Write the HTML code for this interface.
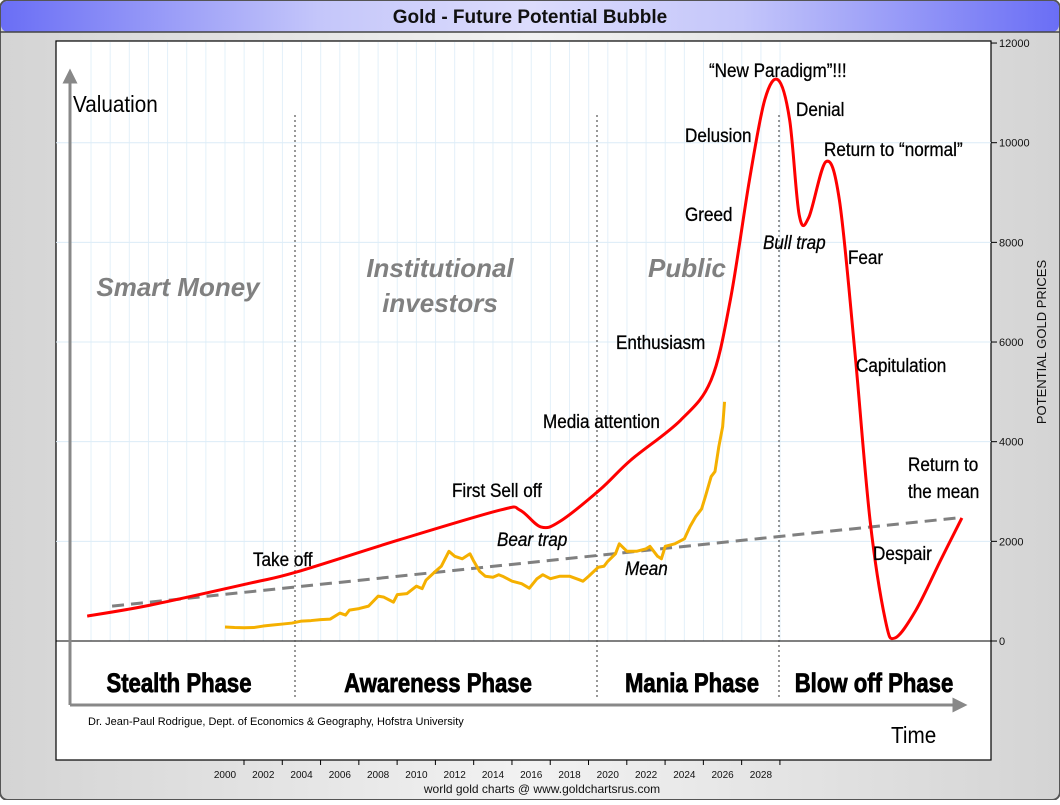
<!DOCTYPE html>
<html><head><meta charset="utf-8"><style>
body{margin:0;width:1060px;height:800px;overflow:hidden;background:#fff;font-family:"Liberation Sans",sans-serif}
</style></head><body>
<svg width="1060" height="800" viewBox="0 0 1060 800" xmlns="http://www.w3.org/2000/svg">
<defs>
<linearGradient id="tg" x1="0" x2="1"><stop offset="0" stop-color="#6a6ef5"/><stop offset="0.3" stop-color="#c4c6fa"/><stop offset="0.5" stop-color="#dcdcfc"/><stop offset="0.7" stop-color="#c4c6fa"/><stop offset="1" stop-color="#6a6ef5"/></linearGradient>
<linearGradient id="bg" x1="0" x2="1"><stop offset="0" stop-color="#d4d4d4"/><stop offset="0.5" stop-color="#f2f2f2"/><stop offset="1" stop-color="#d4d4d4"/></linearGradient>
<marker id="ah" markerWidth="5" markerHeight="5" refX="2.5" refY="2.5" orient="auto"><path d="M0,0 L5,2.5 L0,5 z" fill="#888"/></marker>
</defs>
<rect x="0" y="0" width="1060" height="800" rx="8" fill="url(#bg)" stroke="#555" stroke-width="2"/>
<rect x="1" y="1" width="1058" height="31" rx="7" fill="url(#tg)"/>
<line x1="0" y1="32" x2="1060" y2="32" stroke="#444" stroke-width="1.5"/>
<text x="530" y="23" text-anchor="middle" font-size="19" font-weight="bold" fill="#111">Gold - Future Potential Bubble</text>
<rect x="56" y="41" width="935" height="719" fill="#fff" stroke="#000" stroke-width="1.2"/>
<g id="grid"></g>
<g id="axes"></g>
<g id="marks"></g>
<g id="labels" font-family="'Liberation Sans',sans-serif"></g>
<text x="542" y="793" text-anchor="middle" font-size="12" fill="#111">world gold charts @ www.goldchartsrus.com</text>
<text transform="translate(1046,342) rotate(-90)" text-anchor="middle" font-size="13" fill="#111">POTENTIAL GOLD PRICES</text>
</svg>
<script>
const yTicks=[0,2000,4000,6000,8000,10000,12000];
const xTicks=[2000,2002,2004,2006,2008,2010,2012,2014,2016,2018,2020,2022,2024,2026,2028];
const bubbleYears=[1992.8,1996.1,2001.3,2003.7,2009.1,2014.4,2015.4,2016.5,2017.5,2019.6,2021.2,2023.8,2025.4,2026.4,2027.4,2028.2,2028.9,2029.5,2030.0,2030.5,2031.4,2032.1,2032.9,2033.7,2034.5,2035.0,2036.1,2037.4,2038.5];
const bubbleValues=[500,720,1160,1380,2030,2630,2630,2290,2400,3040,3630,4430,5240,6840,9250,10860,11260,10460,8550,8500,9620,8850,5840,2430,420,60,620,1630,2470];
const goldYears=[2000,2000.5,2001,2001.5,2002,2002.5,2003,2003.5,2004,2004.5,2005,2005.5,2006,2006.3,2006.5,2007,2007.5,2008,2008.3,2008.8,2009,2009.5,2010,2010.3,2010.5,2011,2011.3,2011.7,2012,2012.4,2012.8,2013,2013.3,2013.6,2014,2014.3,2014.5,2015,2015.5,2015.9,2016.3,2016.6,2017,2017.5,2018,2018.5,2018.7,2019,2019.5,2019.8,2020,2020.4,2020.6,2021,2021.5,2022,2022.2,2022.6,2022.8,2023,2023.5,2024,2024.3,2024.6,2024.9,2025.1,2025.4,2025.6,2025.8,2026.0,2026.1];
const goldValues=[280,270,265,270,300,320,340,360,400,410,430,440,560,520,620,650,700,900,880,780,930,950,1100,1050,1220,1400,1500,1800,1700,1650,1750,1600,1400,1300,1280,1330,1300,1200,1150,1060,1250,1330,1250,1300,1300,1230,1200,1300,1480,1500,1600,1750,1950,1800,1800,1850,1900,1700,1650,1900,1950,2050,2300,2500,2650,2900,3300,3400,3900,4300,4800];
const meanYears=[1994.1,2038.5];
const meanValues=[700,2480];

const X=yr=>225+(yr-2000)*19.14;
const Y=v=>641-v*0.04983;
const NS="http://www.w3.org/2000/svg";
function mk(tag,attrs,parent){const e=document.createElementNS(NS,tag);for(const k in attrs)e.setAttribute(k,attrs[k]);parent.appendChild(e);return e;}
const grid=document.getElementById('grid'),axes=document.getElementById('axes'),marks=document.getElementById('marks'),labels=document.getElementById('labels');
for(let yr=1993;yr<=2029;yr++){
  const g=mk('line',{x1:X(yr),x2:X(yr),y1:42,y2:641,stroke:'#e3f0f9','stroke-width':1},grid);
  
  
}
yTicks.forEach(v=>{
  if(v>0&&v<12000){const g=mk('line',{x1:56,x2:991,y1:Y(v),y2:Y(v),stroke:'#dcecf7','stroke-width':1},grid);
  
  }
  const t=mk('line',{x1:991,x2:997,y1:Y(v),y2:Y(v),stroke:'#000'},axes);
  
  
  const l=mk('text',{x:999,y:Y(v)+4,'font-size':11,fill:'#111'},axes);l.textContent=v;
  
  
});
xTicks.forEach(yr=>{
  const t=mk('line',{x1:X(yr)+19,x2:X(yr)+19,y1:760,y2:765,stroke:'#000'},axes);
  
  
  const l=mk('text',{x:X(yr),y:778,'font-size':10,'text-anchor':'middle',fill:'#111'},axes);l.textContent=yr;
  
  
});
let zl=mk('line',{x1:56,x2:991,y1:641,y2:641,stroke:'#000','stroke-width':1},axes);


let va=mk('line',{x1:70,y1:705,x2:70,y2:76,stroke:'#888','stroke-width':3,'marker-end':'url(#ah)'},axes);


let ha=mk('line',{x1:70,y1:705,x2:960,y2:705,stroke:'#888','stroke-width':3,'marker-end':'url(#ah)'},axes);


[295,597,779].forEach(x=>{
  const d=mk('line',{x1:x,x2:x,y1:115,y2:697,stroke:'#555','stroke-width':1.2,'stroke-dasharray':'2,3'},axes);
  
  
});
function smooth(px){let d=`M${px[0][0]},${px[0][1]}`;for(let i=0;i<px.length-1;i++){const p0=px[Math.max(0,i-1)],p1=px[i],p2=px[i+1],p3=px[Math.min(px.length-1,i+2)];
 d+=` C${p1[0]+(p2[0]-p0[0])/6},${p1[1]+(p2[1]-p0[1])/6} ${p2[0]-(p3[0]-p1[0])/6},${p2[1]-(p3[1]-p1[1])/6} ${p2[0]},${p2[1]}`;}return d;}
let mean=mk('line',{x1:X(meanYears[0]),y1:Y(meanValues[0]),x2:X(meanYears[1]),y2:Y(meanValues[1]),stroke:'#808080','stroke-width':3,'stroke-dasharray':'12,7'},marks);


let gold=mk('polyline',{points:goldYears.map((y,i)=>X(y)+','+Y(goldValues[i])).join(' '),fill:'none',stroke:'#f5b000','stroke-width':3,'stroke-linejoin':'round'},marks);


let bub=mk('path',{d:smooth(bubbleYears.map((y,i)=>[X(y),Y(bubbleValues[i])])),fill:'none',stroke:'#f00','stroke-width':3},marks);


const L=[
 ['Valuation',73,112,23,'normal','normal','#000','valuation-label'],
 ['Time',891,743,23,'normal','normal','#000','time-label'],
 ['Smart Money',178,296,26,'bold','italic','#808080','smart-money-label','middle'],
 ['Institutional',440,277,26,'bold','italic','#808080','institutional-label','middle'],
 ['investors',440,312,26,'bold','italic','#808080','investors-label','middle'],
 ['Public',687,277,26,'bold','italic','#808080','public-label','middle'],
 ['Take off',253,566,19,'normal','normal','#000','take-off-label'],
 ['First Sell off',452,497,19,'normal','normal','#000','first-sell-off-label'],
 ['Bear trap',497,546,19,'normal','italic','#000','bear-trap-label'],
 ['Media attention',543,428,19,'normal','normal','#000','media-attention-label'],
 ['Mean',625,575,19,'normal','italic','#000','mean-label'],
 ['Enthusiasm',616,349,19,'normal','normal','#000','enthusiasm-label'],
 ['Greed',685,221,19,'normal','normal','#000','greed-label'],
 ['Delusion',685,142,19,'normal','normal','#000','delusion-label'],
 ['\u201cNew Paradigm\u201d!!!',709,77,19,'normal','normal','#000','new-paradigm-label'],
 ['Denial',796,116,19,'normal','normal','#000','denial-label'],
 ['Bull trap',763,249,19,'normal','italic','#000','bull-trap-label'],
 ['Return to \u201cnormal\u201d',824,156,19,'normal','normal','#000','return-to-normal-label'],
 ['Fear',848,264,19,'normal','normal','#000','fear-label'],
 ['Capitulation',856,372,19,'normal','normal','#000','capitulation-label'],
 ['Return to',908,471,19,'normal','normal','#000','return-to-label'],
 ['the mean',908,498,19,'normal','normal','#000','the-mean-label'],
 ['Despair',873,560,19,'normal','normal','#000','despair-label'],
 ['Stealth Phase',179,692,27,'bold','normal','#000','stealth-phase-label','middle'],
 ['Awareness Phase',438,692,27,'bold','normal','#000','awareness-phase-label','middle'],
 ['Mania Phase',692,692,27,'bold','normal','#000','mania-phase-label','middle'],
 ['Blow off Phase',874,692,27,'bold','normal','#000','blow-off-phase-label','middle'],
 ['Dr. Jean-Paul Rodrigue, Dept. of Economics & Geography, Hofstra University',88,725,11,'normal','normal','#000','author-credit']
];
L.forEach(a=>{
  const t=mk('text',{x:a[1],y:a[2],'font-size':a[3],'font-weight':a[4],'font-style':a[5],fill:a[6],'text-anchor':a[8]||'start'},labels);
  if(a[3]===19||a[3]===23)t.setAttribute('transform',`translate(${a[1]},${a[2]}) scale(0.9,1) translate(${-a[1]},${-a[2]})`);
  if(a[3]===27)t.setAttribute('transform',`translate(${a[1]},${a[2]}) scale(0.82,1) translate(${-a[1]},${-a[2]})`);
  if(a[3]===19||a[3]===27){t.setAttribute('stroke','#000');t.setAttribute('stroke-width',a[3]===27?0.8:0.3);}
  t.textContent=a[0];
  
  
});
</script>
</body></html>
